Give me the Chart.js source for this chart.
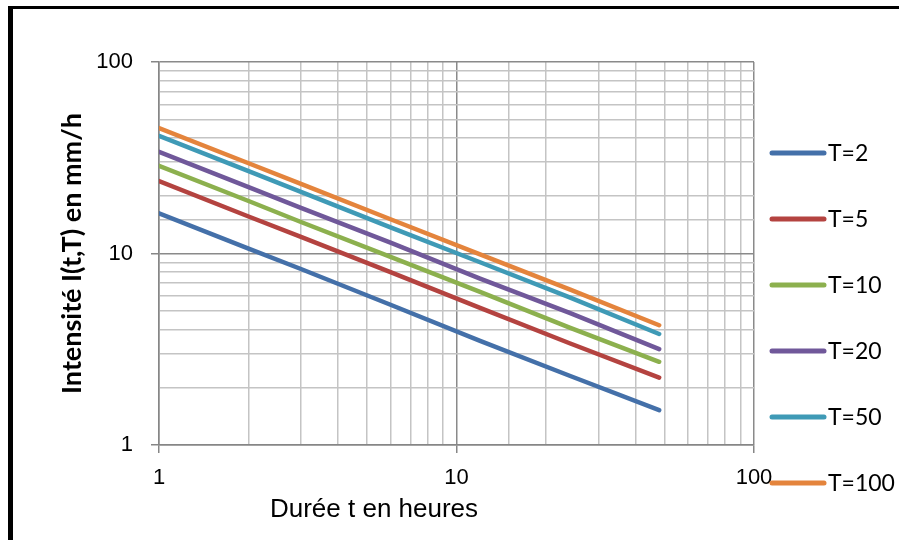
<!DOCTYPE html>
<html>
<head>
<meta charset="utf-8">
<script src="https://cdn.jsdelivr.net/npm/chart.js@4/dist/chart.umd.min.js"></script>
<style>
  html, body { margin: 0; padding: 0; background: #fff; }
  #wrap { position: relative; width: 899px; height: 540px; }
  #frame {
    position: absolute; left: 8px; top: 6px; width: 886px; height: 531px;
    border-left: 5px solid #000; border-top: 3px solid #000;
    pointer-events: none;
  }
</style>
</head>
<body>
<div id="wrap">
  <canvas id="myChart" width="899" height="540"></canvas>
  <div id="frame"></div>
</div>
<script>
// durations (hours) and rain intensity (mm/h) for each return period
const durations = [1, 2, 3, 6, 12, 24, 48];
const seriesLabels = ['T=2', 'T=5', 'T=10', 'T=20', 'T=50', 'T=100'];
const intensT2   = [16.2, 10.6, 8.3, 5.4, 3.5, 2.3, 1.52];
const intensT5   = [23.9, 15.6, 12.2, 8.0, 5.2, 3.4, 2.25];
const intensT10  = [28.7, 18.8, 14.6, 9.6, 6.3, 4.1, 2.72];
const intensT20  = [34.0, 22.2, 17.3, 11.4, 7.4, 4.9, 3.17];
const intensT50  = [41.1, 26.9, 21.0, 13.7, 9.0, 5.9, 3.80];
const intensT100 = [45.2, 29.6, 23.1, 15.1, 9.9, 6.5, 4.22];
const seriesColors = ['#4470a9', '#b44340', '#8cb04e', '#70589a', '#3f9ab6', '#e4843c'];

const allSeries = [intensT2, intensT5, intensT10, intensT20, intensT50, intensT100];

const isDecade = v => Math.abs(Math.log10(v) - Math.round(Math.log10(v))) < 1e-9;

// legend drawn by hand on the right, like the spreadsheet one
const sideLegend = {
  id: 'sideLegend',
  afterDraw(chart) {
    const c = chart.ctx;
    c.save();
    chart.data.datasets.forEach((ds, i) => {
      const y = 153 + i * 66;
      c.strokeStyle = ds.borderColor;
      c.lineWidth = 5;
      c.lineCap = 'round';
      c.beginPath();
      c.moveTo(772, y);
      c.lineTo(824, y);
      c.stroke();
      c.fillStyle = '#000';
      c.font = '23px Lato, "Open Sans", sans-serif';
      c.textBaseline = 'middle';
      c.textAlign = 'left';
      c.fillText(ds.label, 828, y + 1);
    });
    // x axis title, placed left of centre as in the original
    c.font = '26px "Liberation Sans", Arial, sans-serif';
    c.textAlign = 'center';
    c.fillText('Durée t en heures', 374, 510);
    c.restore();
  }
};

const ctx = document.getElementById('myChart').getContext('2d');

const myChart = new Chart(ctx, {
  type: 'line',
  data: {
    datasets: allSeries.map((vals, i) => ({
      label: seriesLabels[i],
      data: durations.map((t, k) => ({ x: t, y: vals[k] })),
      borderColor: seriesColors[i],
      backgroundColor: seriesColors[i],
      borderWidth: 4.5,
      borderCapStyle: 'round',
      pointRadius: 0,
      tension: 0
    }))
  },
  options: {
    responsive: false,
    animation: false,
    layout: { padding: { left: 0, top: 62, right: 145, bottom: 0 } },
    plugins: {
      legend: { display: false },
      tooltip: { enabled: false }
    },
    scales: {
      x: {
        type: 'logarithmic',
        min: 1,
        max: 100,
        afterFit(scale) { scale.height = 95; },
        border: { color: '#868686', width: 1.5 },
        grid: {
          color: c => isDecade(c.tick.value) ? '#8a8a8a' : '#c4c4c4',
          lineWidth: 1.5,
          tickLength: 8,
          tickColor: c => isDecade(c.tick.value) ? '#868686' : 'rgba(0,0,0,0)'
        },
        ticks: {
          autoSkip: false,
          maxRotation: 0,
          padding: 12,
          color: '#000',
          font: { family: '"Liberation Sans", Arial, sans-serif', size: 22 },
          callback: v => isDecade(v) ? String(v) : ''
        }
      },
      y: {
        type: 'logarithmic',
        min: 1,
        max: 100,
        afterFit(scale) { scale.width = 159; },
        border: { color: '#868686', width: 1.5 },
        grid: {
          color: c => isDecade(c.tick.value) ? '#8a8a8a' : '#c4c4c4',
          lineWidth: 1.5,
          tickLength: 8,
          tickColor: c => isDecade(c.tick.value) ? '#868686' : 'rgba(0,0,0,0)'
        },
        ticks: {
          autoSkip: false,
          padding: 18,
          color: '#000',
          font: { family: '"Liberation Sans", Arial, sans-serif', size: 22 },
          callback: v => isDecade(v) ? String(v) : ''
        },
        title: {
          display: true,
          text: 'Intensité I(t,T) en mm/h',
          color: '#000',
          font: { family: 'Lato, "Open Sans", sans-serif', size: 27, weight: 'bold' },
          padding: { top: 56, bottom: 0 }
        }
      }
    }
  },
  plugins: [sideLegend]
});
</script>
</body>
</html>
